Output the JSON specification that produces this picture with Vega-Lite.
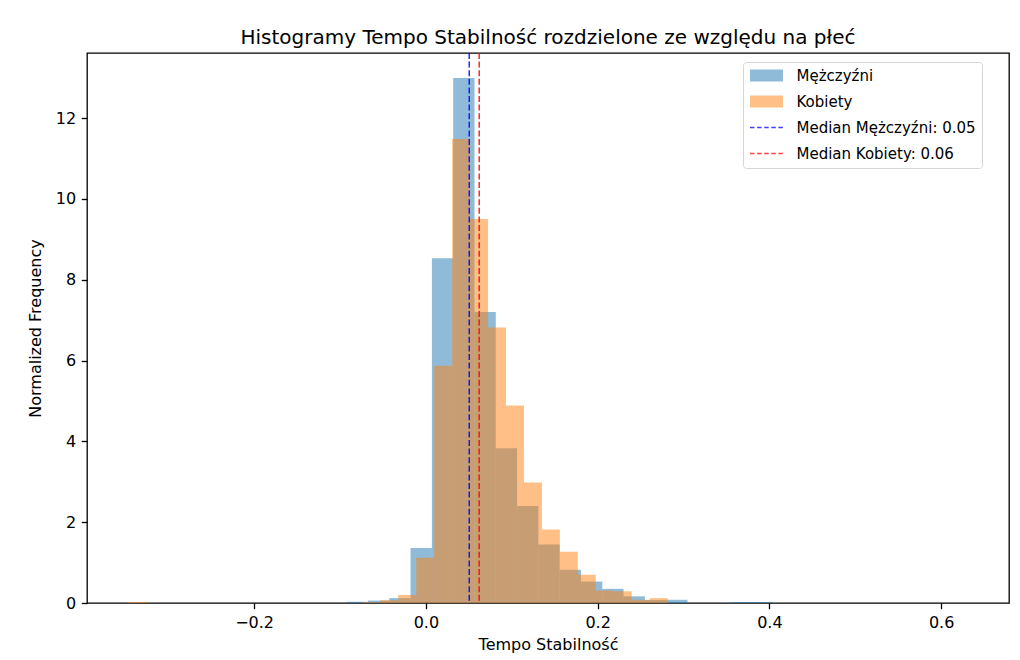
{
  "$schema": "https://vega.github.io/schema/vega-lite/v6.json",
  "width": 922,
  "height": 550,
  "autosize": {"type": "none"},
  "padding": {"left": 87, "top": 53, "right": 11, "bottom": 57},
  "background": "white",
  "config": {
    "font": "DejaVu Sans",
    "view": {"stroke": "black", "strokeWidth": 1.3},
    "axis": {
      "domain": false, "grid": false, "ticks": true,
      "tickColor": "black", "tickWidth": 1.3, "tickSize": 5.7,
      "labelFont": "DejaVu Sans", "labelFontSize": 16, "labelColor": "black", "labelPadding": 5.7,
      "labelOverlap": false, "labelFlush": false,
      "titleFont": "DejaVu Sans", "titleFontSize": 16, "titleFontWeight": "normal", "titleColor": "black"
    }
  },
  "title": {
    "text": "Histogramy Tempo Stabilność rozdzielone ze względu na płeć",
    "font": "DejaVu Sans", "fontSize": 20, "fontWeight": "normal", "color": "black",
    "anchor": "middle", "offset": 4
  },
  "datasets": {
    "men": [
      {"s": "Mężczyźni", "x0": -0.0922, "x1": -0.0674, "v": 0.03},
      {"s": "Mężczyźni", "x0": -0.0674, "x1": -0.0426, "v": 0.06},
      {"s": "Mężczyźni", "x0": -0.0426, "x1": -0.0178, "v": 0.12},
      {"s": "Mężczyźni", "x0": -0.0178, "x1": 0.0070, "v": 1.36},
      {"s": "Mężczyźni", "x0": 0.0070, "x1": 0.0318, "v": 8.53},
      {"s": "Mężczyźni", "x0": 0.0318, "x1": 0.0566, "v": 12.99},
      {"s": "Mężczyźni", "x0": 0.0566, "x1": 0.0814, "v": 7.20},
      {"s": "Mężczyźni", "x0": 0.0814, "x1": 0.1062, "v": 3.83},
      {"s": "Mężczyźni", "x0": 0.1062, "x1": 0.1310, "v": 2.40},
      {"s": "Mężczyźni", "x0": 0.1310, "x1": 0.1558, "v": 1.45},
      {"s": "Mężczyźni", "x0": 0.1558, "x1": 0.1806, "v": 0.82},
      {"s": "Mężczyźni", "x0": 0.1806, "x1": 0.2054, "v": 0.53},
      {"s": "Mężczyźni", "x0": 0.2054, "x1": 0.2302, "v": 0.35},
      {"s": "Mężczyźni", "x0": 0.2302, "x1": 0.2550, "v": 0.165},
      {"s": "Mężczyźni", "x0": 0.2550, "x1": 0.2798, "v": 0.075},
      {"s": "Mężczyźni", "x0": 0.2798, "x1": 0.3046, "v": 0.08},
      {"s": "Mężczyźni", "x0": 0.3542, "x1": 0.3790, "v": 0.025},
      {"s": "Mężczyźni", "x0": 0.3790, "x1": 0.4038, "v": 0.025}
    ],
    "women": [
      {"s": "Kobiety", "x0": -0.3460, "x1": -0.3251, "v": 0.025},
      {"s": "Kobiety", "x0": -0.0740, "x1": -0.0531, "v": 0.02},
      {"s": "Kobiety", "x0": -0.0531, "x1": -0.0322, "v": 0.07},
      {"s": "Kobiety", "x0": -0.0322, "x1": -0.0113, "v": 0.20},
      {"s": "Kobiety", "x0": -0.0113, "x1": 0.0097, "v": 1.12},
      {"s": "Kobiety", "x0": 0.0097, "x1": 0.0306, "v": 5.87},
      {"s": "Kobiety", "x0": 0.0306, "x1": 0.0515, "v": 11.48},
      {"s": "Kobiety", "x0": 0.0515, "x1": 0.0724, "v": 9.50},
      {"s": "Kobiety", "x0": 0.0724, "x1": 0.0933, "v": 6.82},
      {"s": "Kobiety", "x0": 0.0933, "x1": 0.1142, "v": 4.89},
      {"s": "Kobiety", "x0": 0.1142, "x1": 0.1351, "v": 2.98},
      {"s": "Kobiety", "x0": 0.1351, "x1": 0.1560, "v": 1.82},
      {"s": "Kobiety", "x0": 0.1560, "x1": 0.1769, "v": 1.27},
      {"s": "Kobiety", "x0": 0.1769, "x1": 0.1978, "v": 0.70},
      {"s": "Kobiety", "x0": 0.1978, "x1": 0.2187, "v": 0.31},
      {"s": "Kobiety", "x0": 0.2187, "x1": 0.2396, "v": 0.29},
      {"s": "Kobiety", "x0": 0.2396, "x1": 0.2606, "v": 0.08},
      {"s": "Kobiety", "x0": 0.2606, "x1": 0.2815, "v": 0.12}
    ],
    "medians": [
      {"s": "Median Mężczyźni: 0.05", "m": 0.0505},
      {"s": "Median Kobiety: 0.06", "m": 0.0621}
    ]
  },
  "layer": [
    {
      "data": {"name": "men"},
      "mark": {"type": "rect", "fillOpacity": 0.5, "strokeWidth": 0},
      "encoding": {
        "x": {"field": "x0", "type": "quantitative",
              "scale": {"domain": [-0.3946, 0.679], "nice": false, "zero": false},
              "axis": {"values": [-0.2, 0, 0.2, 0.4, 0.6], "format": ".1f", "title": "Tempo Stabilność", "titlePadding": 6}},
        "x2": {"field": "x1"},
        "y": {"field": "v", "type": "quantitative",
              "scale": {"domain": [0, 13.61], "nice": false, "zero": true},
              "axis": {"values": [0, 2, 4, 6, 8, 10, 12], "title": "Normalized Frequency", "titlePadding": 12}},
        "y2": {"datum": 0},
        "color": {
          "field": "s", "type": "nominal",
          "scale": {
            "domain": ["Mężczyźni", "Kobiety", "Median Mężczyźni: 0.05", "Median Kobiety: 0.06"],
            "range": ["#1f77b4", "#ff7f0e", "#0000ff", "#ff0000"]
          },
          "legend": {
            "title": null,
            "orient": "none",
            "legendX": 656,
            "legendY": 9,
            "fillColor": "white",
            "strokeColor": "#d6d6d6",
            "cornerRadius": 3,
            "padding": 6,
            "rowPadding": 10,
            "labelFont": "DejaVu Sans",
            "labelFontSize": 15,
            "labelColor": "black",
            "labelOffset": 12.5,
            "labelLimit": 400,
            "symbolSize": 1089,
            "encode": {
              "symbols": {
                "update": {
                  "y": {"value": 7.5},
                  "shape": {"signal": "test(/^Median/, datum.value) ? 'M-1,0H1' : 'M-1,-0.36H1V0.36H-1Z'"},
                  "fill": {"scale": "color", "field": "value"},
                  "fillOpacity": {"signal": "test(/^Median/, datum.value) ? 0 : 0.5"},
                  "stroke": {"scale": "color", "field": "value"},
                  "strokeOpacity": {"signal": "test(/^Median/, datum.value) ? 0.75 : 0"},
                  "strokeWidth": {"value": 1.5},
                  "strokeDash": {"value": [4.5, 2.6]},
                  "opacity": {"value": 1}
                }
              },
              "labels": {
                "update": {
                  "y": {"value": 7.5}
                }
              }
            }
          }
        }
      }
    },
    {
      "data": {"name": "women"},
      "mark": {"type": "rect", "fillOpacity": 0.5, "strokeWidth": 0},
      "encoding": {
        "x": {"field": "x0", "type": "quantitative"},
        "x2": {"field": "x1"},
        "y": {"field": "v", "type": "quantitative"},
        "y2": {"datum": 0},
        "color": {"field": "s", "type": "nominal"}
      }
    },
    {
      "data": {"name": "medians"},
      "mark": {"type": "rule", "strokeDash": [6, 2.6], "strokeWidth": 1.5, "opacity": 0.85},
      "encoding": {
        "x": {"field": "m", "type": "quantitative"},
        "color": {"field": "s", "type": "nominal"}
      }
    }
  ]
}
